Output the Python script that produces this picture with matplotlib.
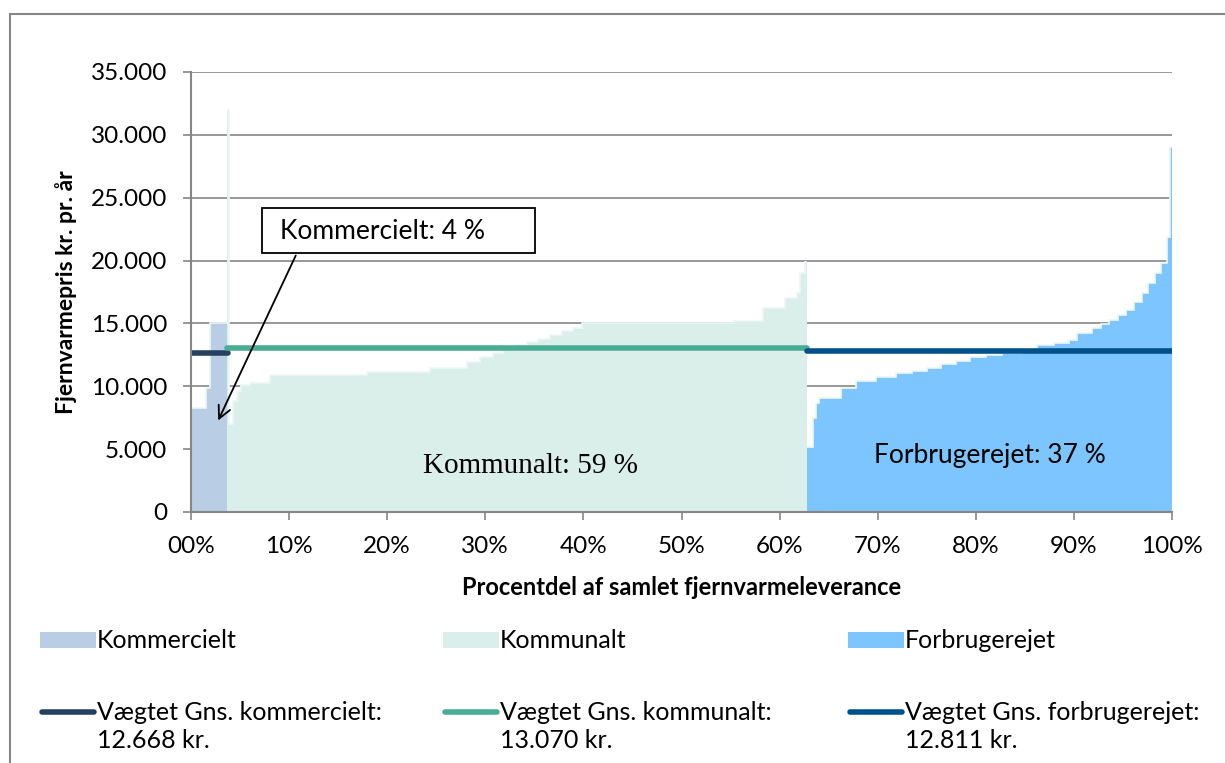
import matplotlib
matplotlib.use("Agg")
from matplotlib import pyplot as plt
from matplotlib.patches import Rectangle
from matplotlib.lines import Line2D

# share of total district heating delivery (%) -> price kr. per year (step edges)
komm_edges = [0, 1.5, 1.9, 3.8]
komm_vals = [8300, 9900, 15000]

kmnl_edges = [3.7, 3.9, 4.3, 4.7, 5.1, 6.0, 8.1, 17.9, 24.4, 28.1, 29.5, 30.8, 31.8,
              33.1, 34.2, 35.4, 36.6, 37.8, 38.9, 39.9, 55.2, 58.3, 60.5, 61.8, 62.1,
              62.6, 62.8]
kmnl_vals = [32000, 7000, 8800, 9600, 10100, 10300, 10900, 11150, 11450, 11950, 12350,
             12650, 12900, 13300, 13500, 13800, 14100, 14400, 14650, 15050, 15200,
             16200, 17000, 17400, 19000, 19900]

forb_edges = [62.8, 63.4, 63.7, 64.0, 66.3, 67.8, 69.8, 71.9, 73.5, 75.0, 76.5, 78.0,
              79.4, 81.0, 82.7, 84.7, 86.2, 88.0, 89.5, 90.3, 91.8, 92.8, 93.6, 94.5,
              95.3, 96.1, 96.9, 97.6, 98.3, 98.9, 99.5, 99.8, 100.0]
forb_vals = [5200, 7500, 8700, 9100, 9860, 10440, 10740, 11050, 11250, 11450, 11800,
             12000, 12300, 12450, 12640, 13000, 13280, 13450, 13680, 14200, 14600,
             14950, 15270, 15650, 16070, 16700, 17400, 18200, 19000, 19800, 21900,
             29000]

# weighted averages
avg_komm = 12668
avg_kmnl = 13070
avg_forb = 12811

y_ticks = [0, 5000, 10000, 15000, 20000, 25000, 30000, 35000]
y_labels = ["0", "5.000", "10.000", "15.000", "20.000", "25.000", "30.000", "35.000"]
x_ticks = [0, 10, 20, 30, 40, 50, 60, 70, 80, 90, 100]
x_labels = ["00%", "10%", "20%", "30%", "40%", "50%", "60%", "70%", "80%", "90%", "100%"]

c_komm = "#B9CDE5"
c_kmnl = "#DAEEEA"
c_forb = "#7CC5FF"
c_edge = "#EEF7F6"
l_komm = "#254061"
l_kmnl = "#4BAC96"
l_forb = "#00508A"
grey = "#868686"

plt.rcParams["font.family"] = ["Lato", "DejaVu Sans"]

fig = plt.figure(figsize=(12.25, 7.63), dpi=100)
ax = fig.add_axes([191/1225, 1-512/763, 981/1225, 440/763])

ax.stairs(komm_vals, komm_edges, fill=True, color=c_komm, zorder=2)
ax.stairs(kmnl_vals, kmnl_edges, fill=True, color=c_kmnl, zorder=2)
ax.stairs(forb_vals, forb_edges, fill=True, color=c_forb, zorder=2)
for v, e in [(komm_vals, komm_edges), (kmnl_vals, kmnl_edges), (forb_vals, forb_edges)]:
    ax.stairs(v, e, color=c_edge, lw=1.2, baseline=None, zorder=2.1)

ax.plot([komm_edges[0], komm_edges[-1]], [avg_komm, avg_komm], color=l_komm, lw=4,
        solid_capstyle="round", zorder=3)
ax.plot([kmnl_edges[0], kmnl_edges[-1]], [avg_kmnl, avg_kmnl], color=l_kmnl, lw=4,
        solid_capstyle="round", zorder=3)
ax.plot([forb_edges[0], forb_edges[-1]], [avg_forb, avg_forb], color=l_forb, lw=4,
        solid_capstyle="round", zorder=3)

ax.set_xlim(0, 100)
ax.set_ylim(0, 35000)
ax.set_yticks(y_ticks)
ax.set_yticklabels(y_labels)
ax.set_xticks(x_ticks)
ax.set_xticklabels(x_labels)
ax.tick_params(axis="both", direction="out", length=6, width=1.2, color=grey,
               labelsize=17.5, labelcolor="black")
ax.tick_params(axis="y", pad=11)
ax.tick_params(axis="x", pad=11)
ax.set_axisbelow(True)
ax.yaxis.grid(True, color=grey, lw=1.2, zorder=0)
for s in ["top", "right"]:
    ax.spines[s].set_visible(False)
for s in ["left", "bottom"]:
    ax.spines[s].set_color(grey)
    ax.spines[s].set_linewidth(1.5)
    ax.spines[s].set_zorder(4)

ax.set_ylabel("Fjernvarmepris kr. pr. år", fontsize=16.5, fontweight="bold", labelpad=10)
ax.set_xlabel("Procentdel af samlet fjernvarmeleverance", fontsize=17,
              fontweight="bold", labelpad=14)

ax.text(34.6, 3660, "Kommunalt: 59 %", family=["Liberation Serif"], fontsize=21,
        ha="center", va="center", zorder=5)
ax.text(81.4, 4530, "Forbrugerejet: 37 %", fontsize=19, ha="center", va="center",
        zorder=5)

# callout box
ax.add_patch(Rectangle((0.0724, 0.5886), 0.2783, 0.1024, transform=ax.transAxes,
                       facecolor="white", edgecolor="black", lw=1.3, zorder=6))
ax.text(0.0907, 0.637, "Kommercielt: 4 %", transform=ax.transAxes, fontsize=19,
        ha="left", va="center", zorder=7)
ax.annotate("", xy=(2.65, 7080), xytext=(0.108, 0.5886), textcoords="axes fraction",
            arrowprops=dict(arrowstyle="->,head_length=0.9,head_width=0.45",
                            color="black", lw=1.3), zorder=7)

# legend
def fx(px):
    return px / 1225

def fy(py):
    return 1 - py / 763

patch_items = [(40, c_komm, "Kommercielt"), (443, c_kmnl, "Kommunalt"),
               (848, c_forb, "Forbrugerejet")]
for x0, c, lab in patch_items:
    fig.add_artist(Rectangle((fx(x0), fy(648)), fx(56), 16/763, facecolor=c,
                             edgecolor="none", transform=fig.transFigure))
    fig.text(fx(x0 + 57), fy(640), lab, fontsize=18, ha="left", va="center")

line_items = [(40, l_komm, "Vægtet Gns. kommercielt:", "12.668 kr."),
              (443, l_kmnl, "Vægtet Gns. kommunalt:", "13.070 kr."),
              (848, l_forb, "Vægtet Gns. forbrugerejet:", "12.811 kr.")]
for x0, c, lab1, lab2 in line_items:
    fig.add_artist(Line2D([fx(x0 + 2), fx(x0 + 54)], [fy(712), fy(712)], color=c, lw=4,
                          solid_capstyle="round", transform=fig.transFigure))
    fig.text(fx(x0 + 57), fy(712), lab1, fontsize=18, ha="left", va="center")
    fig.text(fx(x0 + 57), fy(741), lab2, fontsize=18, ha="left", va="center")

# outer chart border
fig.add_artist(Rectangle((fx(10), -0.05), 1.1, fy(14) + 0.05, facecolor="none",
                         edgecolor=grey, lw=1.5, transform=fig.transFigure))

plt.savefig("out.png", dpi=100)
